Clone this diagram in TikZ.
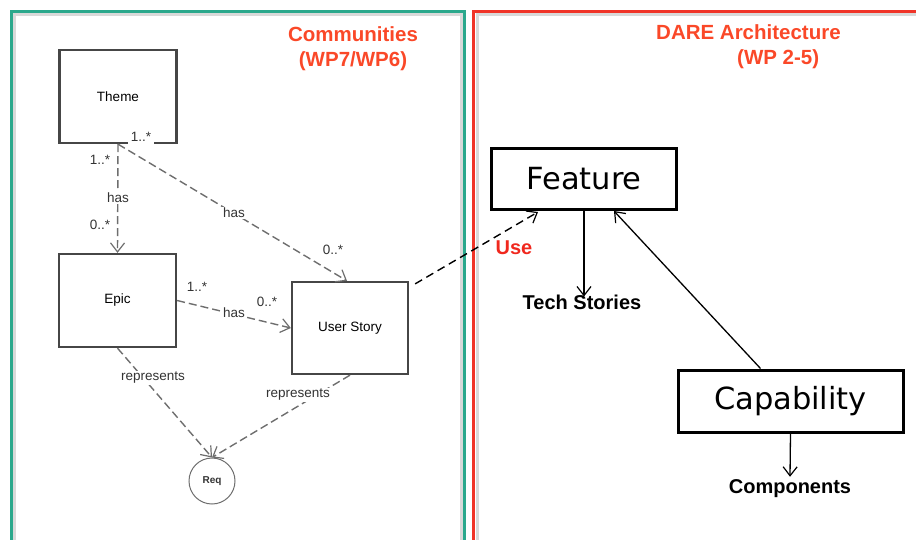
\documentclass[tikz,border=0pt]{standalone}
\usepackage{fontspec}
\setmainfont{Liberation Sans}
\newfontfamily\dejavu{DejaVu Sans}
\usetikzlibrary{arrows.meta,calc}
\definecolor{teal2}{RGB}{43,168,140}
\definecolor{panelred}{RGB}{240,52,40}
\definecolor{titlered}{RGB}{250,72,40}
\definecolor{userred}{RGB}{240,40,30}
\definecolor{umlgray}{RGB}{70,70,70}
\definecolor{linegray}{RGB}{110,110,110}
\tikzset{
  umlbox/.style={draw=umlgray, line width=2.3pt, fill=white, inner sep=0pt,
    font=\fontsize{13.5}{16}\selectfont},
  umlline/.style={draw=linegray, line width=1.4pt, dash pattern=on 8pt off 4pt,
    -{Straight Barb[length=9pt,width=14pt,line width=1.2pt]}},
  umllabel/.style={fill=white, inner sep=1pt, text=black!80,
    font=\fontsize{13.5}{16}\selectfont},
  multlabel/.style={inner sep=0.5pt, text=black!80,
    font=\fontsize{13.5}{16}\selectfont},
  archbox/.style={draw=black, line width=3pt, fill=white, inner sep=0pt,
    font=\dejavu\fontsize{30.5}{34}\selectfont},
  archarrow/.style={draw=black, line width=1.3pt,
    -{Straight Barb[length=9pt,width=14pt,line width=1.2pt]}},
  archlabel/.style={font=\bfseries\fontsize{20}{24}\selectfont, inner sep=0pt},
  paneltitle/.style={text=titlered, align=center, inner sep=0pt,
    font=\bfseries\fontsize{20.5}{25}\selectfont},
}
\begin{document}
\begin{tikzpicture}[x=1pt,y=-1pt]
\useasboundingbox (0,0) rectangle (916,539);

% panel frames with their soft inner shadow
\draw[line width=3pt, black!15] (14.5,545) -- (14.5,14.5) -- (461,14.5) -- (461,545);
\draw[line width=3pt, teal2] (11,545) -- (11,11.5) -- (464,11.5) -- (464,545);
\draw[line width=3pt, black!15] (477,545) -- (477,14.5) -- (920,14.5);
\draw[line width=3pt, panelred] (473.5,545) -- (473.5,11.5) -- (920,11.5);

% panel titles
\node[paneltitle] (commtitle) at (353,49) {Communities\\(WP7/WP6)};
\node[paneltitle, anchor=north west] (daretitle) at (656,24.5)
  {DARE Architecture\\\hspace*{2.9em}(WP 2-5)};

% UML part
\node[umlbox, minimum width=117pt, minimum height=93pt] (theme) at (118,96.5) {Theme};
\node[umlbox, minimum width=117pt, minimum height=93pt] (epic) at (117.5,300.5) {Epic};
\node[umlbox, minimum width=116pt, minimum height=92pt] (us) at (350,328) {User Story};
\node[draw=linegray, line width=1pt, circle, minimum size=46pt, inner sep=0pt,
  font=\bfseries\fontsize{10}{12}\selectfont, text=black!80] (req) at (212,481) {Req};

\node[multlabel, fill=white, inner xsep=2.5pt, inner ysep=4pt] (thm1) at (141,137) {1..*};

\draw[umlline] (theme.south) -- (epic.north);
\node[multlabel] (te1) at (100,160) {1..*};
\node[umllabel] (tehas) at (118,198) {has};
\node[multlabel] (te0) at (100,225) {0..*};

\draw[umlline] (theme.south) -- ($(us.north)+(-3,0)$);
\node[umllabel] (tuhas) at (234,213) {has};
\node[multlabel] (tu0) at (333,250) {0..*};

\draw[umlline] (epic.east) -- (us.west);
\node[umllabel] (euhas) at (234,313) {has};
\node[multlabel] (eu1) at (197,287) {1..*};
\node[multlabel] (eu0) at (267,302) {0..*};

\draw[umlline] (epic.south) -- (req.north);
\node[umllabel] (erep) at (153,378) {represents};
\draw[umlline] (us.south) -- (req.north);
\node[umllabel] (urep) at (298,395) {represents};

% architecture part
\node[archbox, minimum width=185pt, minimum height=61pt] (feature) at (584,179) {Feature};
\node[archbox, minimum width=225pt, minimum height=62pt] (cap) at (790.5,401) {Capability};
\node[archlabel] (tech) at (582,302) {Tech Stories};
\node[archlabel] (comp) at (790,489) {Components};

\draw[archarrow] (feature.south) -- ($(tech.north)+(2,2)$);
\draw[archarrow] ($(cap.north west)+(84,0)$) -- ($(feature.south)+(30,0)$);
\draw[archarrow] (cap.south) -- ($(comp.north)+(0,-3)$);

% link between the two sides
\draw[draw=black, line width=1.4pt, dash pattern=on 8pt off 5pt,
  -{Straight Barb[length=9pt,width=14pt,line width=1.2pt]}]
  ($(us.north east)+(6,3)$) -- ($(feature.south west)+(48,1)$);
\node[text=userred, font=\bfseries\fontsize{20}{24}\selectfont, inner sep=0pt] (use) at (514,248) {Use};
\end{tikzpicture}
\end{document}
